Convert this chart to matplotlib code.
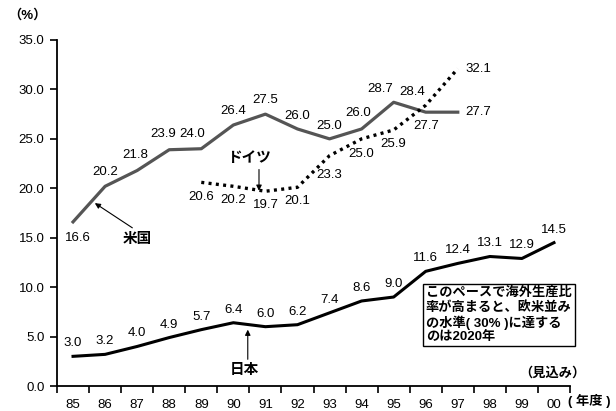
import matplotlib
matplotlib.use("Agg")
import matplotlib.pyplot as plt

plt.rcParams['font.family'] = ['Liberation Sans', 'Noto Sans CJK JP']

years = ["85", "86", "87", "88", "89", "90", "91", "92", "93", "94",
         "95", "96", "97", "98", "99", "00"]
japan = [3.0, 3.2, 4.0, 4.9, 5.7, 6.4, 6.0, 6.2, 7.4, 8.6,
         9.0, 11.6, 12.4, 13.1, 12.9, 14.5]
usa = [16.6, 20.2, 21.8, 23.9, 24.0, 26.4, 27.5, 26.0, 25.0, 26.0,
       28.7, 27.7, 27.7]
germany_start = 4  # Germany series begins in fiscal 89
germany = [20.6, 20.2, 19.7, 20.1, 23.3, 25.0, 25.9, 28.4, 32.1]
yticks = [0, 5, 10, 15, 20, 25, 30, 35]

W, H = 616, 411
fig = plt.figure(figsize=(W / 100, H / 100), dpi=100)
ax = fig.add_axes([57 / W, (H - 386) / H, (570 - 57) / W, (386 - 40) / H])

xj = [i + 0.5 for i in range(len(japan))]
xu = [i + 0.5 for i in range(len(usa))]
xg = [germany_start + i + 0.5 for i in range(len(germany))]

ax.plot(xu, usa, color='#555555', lw=2.3)
ax.plot(xg, germany, color='black', lw=2.4, linestyle=(0, (0.9, 1.3)))
ax.plot(xj, japan, color='black', lw=2.2)

ax.set_xlim(0, 16)
ax.set_ylim(0, 35)
ax.set_yticks(yticks)
ax.set_yticklabels([f"{v:.1f}" for v in yticks], fontsize=9.5)
ax.set_xticks(range(0, 17))
ax.set_xticklabels([])
ax.set_xticks([i + 0.5 for i in range(16)], minor=True)
ax.set_xticklabels(years, minor=True, fontsize=9.5)
ax.tick_params(axis='x', which='major', length=5, width=1.2, direction='out')
ax.tick_params(axis='x', which='minor', length=0, pad=9)
ax.tick_params(axis='y', length=5, width=1.2, direction='out', pad=4)
for s in ['top', 'right']:
    ax.spines[s].set_visible(False)
for s in ['left', 'bottom']:
    ax.spines[s].set_linewidth(1.3)


def label(x, y, dx, dy, ha='center'):
    ax.annotate(f"{y:.1f}", xy=(x, y), xytext=(dx, dy),
                textcoords='offset pixels', ha=ha, va='center',
                fontsize=9.5)


# Japan: values above the line
for x, y in zip(xj, japan):
    label(x, y, 0, 13)

# USA
us_off = [(5, -16), (0, 14), (-2, 15), (-6, 16), (-9, 15), (0, 14), (0, 14),
          (0, 13), (0, 13), (-3, 16), (-13, 13), (0, -13.5)]
for (x, y), (dx, dy) in zip(zip(xu[:-1], usa[:-1]), us_off):
    label(x, y, dx, dy)
label(xu[-1], usa[-1], 8, 0, ha='left')

# Germany
de_off = [(0, -15), (0, -14), (0, -14), (0, -14), (0, -19), (0, -15),
          (0, -14), (-14, 13)]
for (x, y), (dx, dy) in zip(zip(xg[:-1], germany[:-1]), de_off):
    label(x, y, dx, dy)
label(xg[-1], germany[-1], 8, 0, ha='left')

# Series names with arrows
arrow = dict(arrowstyle='-|>', color='black', lw=0.8, mutation_scale=8,
             shrinkA=0, shrinkB=0)
ax.annotate("", xy=(1.18, 18.5), xytext=(2.35, 16.0), arrowprops=arrow)
ax.text(2.5, 14.9, "米国", fontsize=10.5, fontweight='bold',
        ha='center', va='center')
ax.annotate("", xy=(6.3, 19.75), xytext=(6.3, 21.9), arrowprops=arrow)
ax.text(6.0, 23.05, "ドイツ", fontsize=10.5, fontweight='bold',
        ha='center', va='center')
ax.annotate("", xy=(5.95, 5.7), xytext=(5.95, 2.7), arrowprops=arrow)
ax.text(5.85, 1.6, "日本", fontsize=10.5, fontweight='bold',
        ha='center', va='center')

# Commentary box
fig.text(426 / W, 1 - 315 / H,
         "このペースで海外生産比\n率が高まると、欧米並み\nの水準( 30% )に達する\nのは2020年",
         fontsize=9.5, fontweight='bold', ha='left', va='center',
         linespacing=1.15,
         bbox=dict(boxstyle='square,pad=0.25', fc='white', ec='black', lw=1.0))

fig.text(552 / W, 1 - 373 / H, "（見込み）", fontsize=9.5, fontweight='bold',
         ha='center', va='center')
fig.text(611 / W, 1 - 401 / H, "( 年度 )", fontsize=9.5, fontweight='bold',
         ha='right', va='center')
fig.text(27 / W, 1 - 15 / H, "（%）", fontsize=9.5, fontweight='bold',
         ha='center', va='center')

fig.savefig("out.png", dpi=100)
